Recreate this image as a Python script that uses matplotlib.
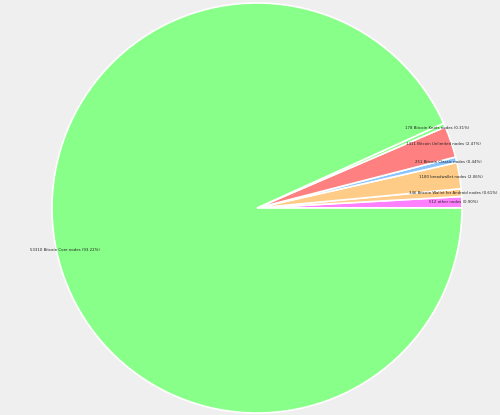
import matplotlib
matplotlib.use("Agg")
import matplotlib.pyplot as plt

labels = ["other nodes", "Bitcoin Wallet for Android nodes", "breadwallet nodes",
          "Bitcoin Classic nodes", "Bitcoin Unlimited nodes", "Bitcoin Knots nodes",
          "Bitcoin Core nodes"]
counts = [512, 346, 1180, 251, 1411, 178, 53310]
percents = ["0.90%", "0.61%", "2.06%", "0.44%", "2.47%", "0.31%", "93.22%"]
colors = ["#ff80ff", "#ffcc88", "#ffcc88", "#88c4ff", "#ff8080", "#88ff88", "#88ff88"]

texts = [f"{c} {l} ({p})" for c, l, p in zip(counts, labels, percents)]

fig = plt.figure(figsize=(5.0, 4.15), dpi=100, facecolor="#efefef")
ax = fig.add_axes([(257 - 205) / 500, (415 - 208 - 205) / 415, 410 / 500, 410 / 415])
ax.set_facecolor("#efefef")
wedges, txts = ax.pie(counts, colors=colors, labels=texts, startangle=0,
                      counterclock=True, labeldistance=0.96,
                      wedgeprops=dict(edgecolor="white", linewidth=1.2),
                      textprops=dict(fontsize=2.8, color="#222222", ha="center", va="center"))
for t in txts:
    t.set_ha("center")
ax.set_xlim(-1, 1)
ax.set_ylim(-1, 1)
ax.set_aspect("equal")
ax.axis("off")
fig.savefig("out.png", dpi=100, facecolor="#efefef")
